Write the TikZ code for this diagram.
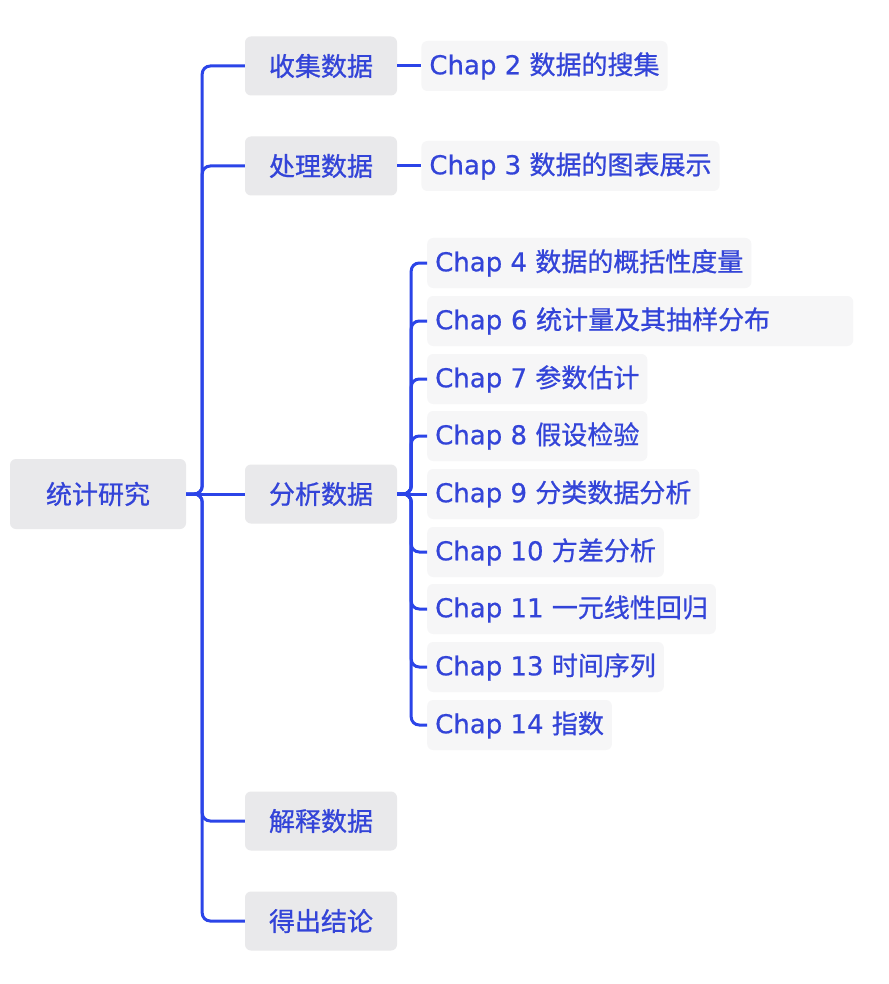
\documentclass[tikz,border=0pt]{standalone}
\usepackage{fontspec}
\setmainfont{Noto Sans CJK SC}[FakeBold=0.8]
\newfontfamily\latinfont{DejaVu Sans}[FakeBold=0.6]
\usetikzlibrary{positioning}
\definecolor{MapBlue}{HTML}{3344D8}
\definecolor{MapLine}{HTML}{2B44E8}
\definecolor{MapGray}{HTML}{E9E9EB}
\definecolor{MapLight}{HTML}{F6F6F7}
\newcommand{\chapname}[1]{{\latinfont Chap #1 }}
\tikzset{
    % Grey topic boxes
    topic/.style={
        rectangle,
        rounded corners=6pt,
        fill=MapGray,
        text=MapBlue,
        minimum width=152pt,
        minimum height=59pt,
        align=center,
        font=\fontsize{26}{30}\selectfont
    },
    root topic/.style={
        topic,
        minimum width=176pt,
        minimum height=70pt
    },
    sub topic/.style={
        rectangle,
        rounded corners=6pt,
        fill=MapLight,
        text=MapBlue,
        minimum height=50pt,
        inner xsep=8pt,
        anchor=west,
        font=\fontsize{26}{30}\selectfont
    },
    branch/.style={
        draw=MapLine,
        line width=3pt,
        rounded corners=8pt
    }
}

\begin{document}
\begin{tikzpicture}[x=1pt, y=-1pt]
        \useasboundingbox[fill=white] (0,0) rectangle (888,984);
        % Topics
        \node[root topic] (study) at (98,494) {统计研究};
        \node[topic] (collect) at (321,66) {收集数据};
        \node[topic] (process) at (321,166) {处理数据};
        \node[topic] (analyse) at (321,494) {分析数据};
        \node[topic] (explain) at (321,821) {解释数据};
        \node[topic] (conclude) at (321,921) {得出结论};

        % Chapters
        \node[sub topic, right=24pt of collect] (chap2) {\chapname{2}数据的搜集};
        \node[sub topic, right=24pt of process] (chap3) {\chapname{3}数据的图表展示};
        \node[sub topic] (chap4) at (427,263) {\chapname{4}数据的概括性度量};
        \node[sub topic, text width=410pt] (chap6) at (427,321) {\chapname{6}统计量及其抽样分布};
        \node[sub topic] (chap7) at (427,379) {\chapname{7}参数估计};
        \node[sub topic] (chap8) at (427,436) {\chapname{8}假设检验};
        \node[sub topic] (chap9) at (427,494) {\chapname{9}分类数据分析};
        \node[sub topic] (chap10) at (427,552) {\chapname{10}方差分析};
        \node[sub topic] (chap11) at (427,609) {\chapname{11}一元线性回归};
        \node[sub topic] (chap13) at (427,667) {\chapname{13}时间序列};
        \node[sub topic] (chap14) at (427,725) {\chapname{14}指数};

        % Branches
        \draw[branch] (study.east) -- ++(16,0) |- (collect.west);
        \draw[branch] (study.east) -- ++(16,0) |- (process.west);
        \draw[branch] (study.east) -- (analyse.west);
        \draw[branch] (study.east) -- ++(16,0) |- (explain.west);
        \draw[branch] (study.east) -- ++(16,0) |- (conclude.west);
        \draw[branch] (collect.east) -- (chap2.west);
        \draw[branch] (process.east) -- (chap3.west);
        \draw[branch] (analyse.east) -- ++(14,0) |- (chap4.west);
        \draw[branch] (analyse.east) -- ++(14,0) |- (chap6.west);
        \draw[branch] (analyse.east) -- ++(14,0) |- (chap7.west);
        \draw[branch] (analyse.east) -- ++(14,0) |- (chap8.west);
        \draw[branch] (analyse.east) -- (chap9.west);
        \draw[branch] (analyse.east) -- ++(14,0) |- (chap10.west);
        \draw[branch] (analyse.east) -- ++(14,0) |- (chap11.west);
        \draw[branch] (analyse.east) -- ++(14,0) |- (chap13.west);
        \draw[branch] (analyse.east) -- ++(14,0) |- (chap14.west);
    \end{tikzpicture}
\end{document}
